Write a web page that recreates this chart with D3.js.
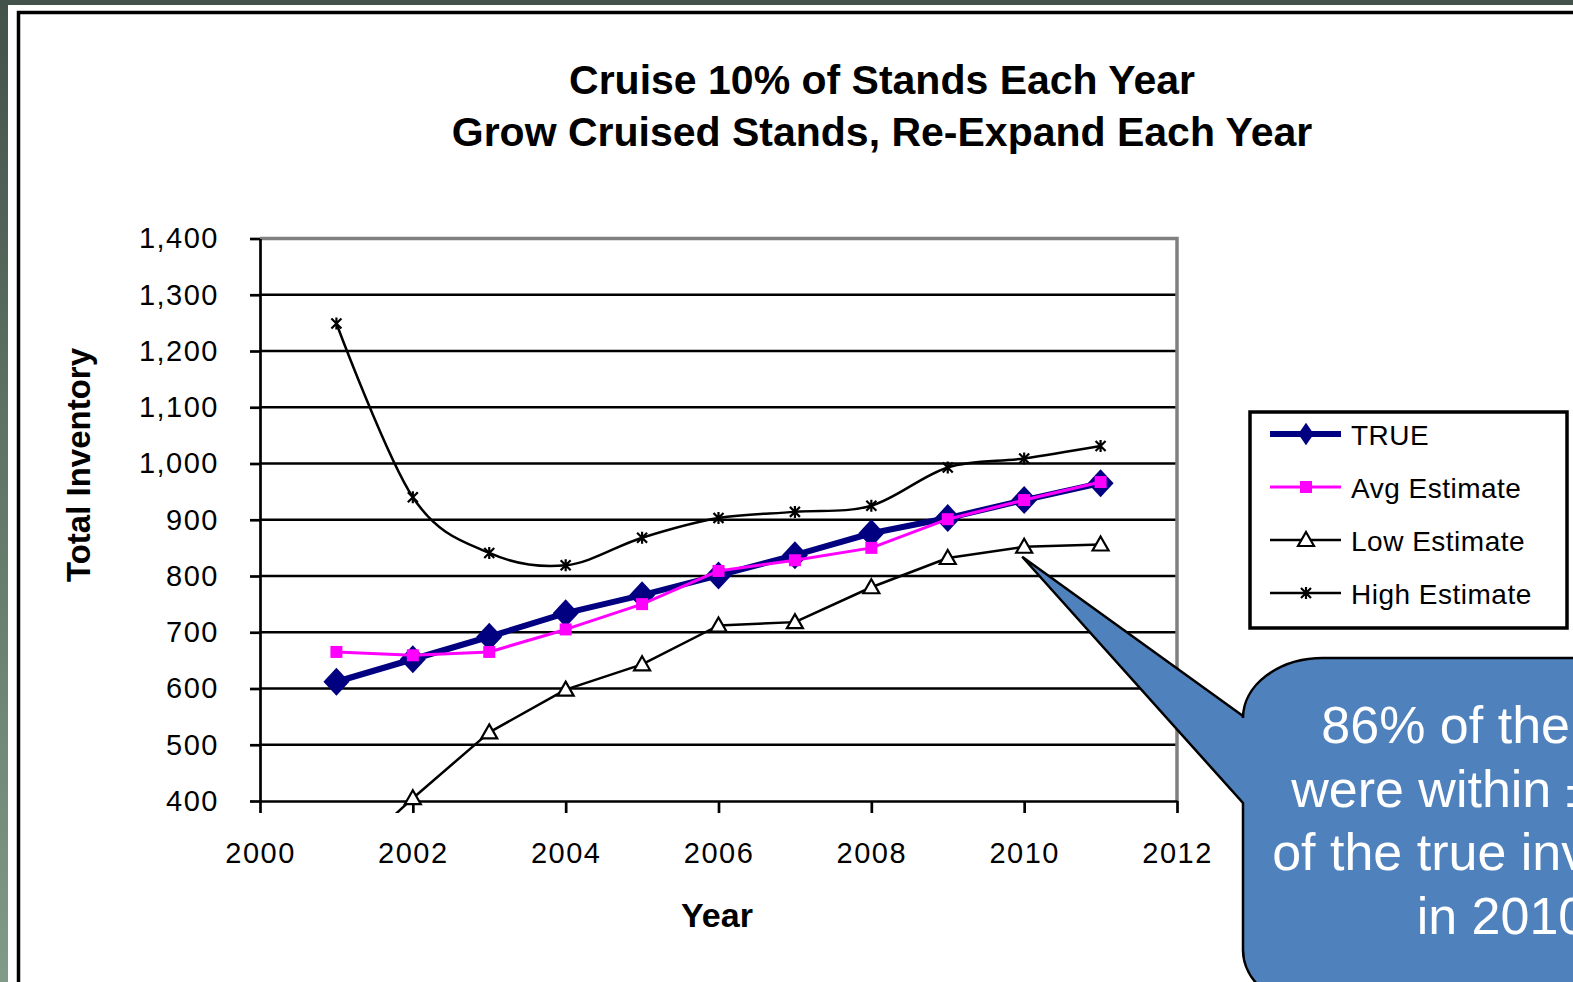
<!DOCTYPE html>
<html>
<head>
<meta charset="utf-8">
<script src="https://cdn.jsdelivr.net/npm/d3@7"></script>
<style>
    body { margin: 0; background: #ffffff; }
    svg { display: block; }
    text { font-family: "Liberation Sans", Arial, sans-serif; }
</style>
</head>
<body>
<script>

// data
var years = [2001, 2002, 2003, 2004, 2005, 2006, 2007, 2008, 2009, 2010, 2011],
    trueValues = [612, 652, 692, 734, 766, 801, 837, 876, 903, 935, 965],
    avgValues = [665, 659, 665, 705, 750, 809, 828, 850, 901, 935, 967],
    lowValues = [280, 405, 522, 598, 643, 712, 718, 780, 832, 852, 856],
    highValues = [1249, 940, 841, 819, 868, 903, 914, 925, 993, 1009, 1031],
    seriesNames = ["TRUE", "Avg Estimate", "Low Estimate", "High Estimate"],
    yTicks = [400, 500, 600, 700, 800, 900, 1000, 1100, 1200, 1300, 1400],
    xTicks = [2000, 2002, 2004, 2006, 2008, 2010, 2012],
    titleLines = ["Cruise 10% of Stands Each Year", "Grow Cruised Stands, Re-Expand Each Year"],
    calloutLines = ["86% of the time", "were within \u00b1 10%", "of the true inventory", "in 2010"];

var width = 1573,
    height = 982,
    plot = {left: 260, right: 1177, top: 238.5, bottom: 801};

var svg = d3.select("body").append("svg")
    .attr("width", width)
    .attr("height", height);

// slide background: white page, dark strips and black frame
var defs = svg.append("defs");
var grad = defs.append("linearGradient")
    .attr("id", "strip")
    .attr("x1", 0).attr("y1", 0).attr("x2", 0).attr("y2", 1);
grad.append("stop").attr("offset", "0%").attr("stop-color", "#43524a");
grad.append("stop").attr("offset", "100%").attr("stop-color", "#809b87");

svg.append("rect").attr("width", width).attr("height", height).attr("fill", "#ffffff");
svg.append("rect").attr("width", 8).attr("height", height).attr("fill", "url(#strip)");
svg.append("rect").attr("width", width).attr("height", 5).attr("fill", "#43524a");
svg.append("rect")
    .attr("x", 18.5).attr("y", 12.5)
    .attr("width", 1700).attr("height", 1200)
    .attr("fill", "none")
    .attr("stroke", "#000")
    .attr("stroke-width", 3.5);

// scales
var x = d3.scaleLinear().domain([2000, 2012]).range([plot.left, plot.right]);
var y = d3.scaleLinear().domain([400, 1400]).range([plot.bottom, plot.top]);

// title
svg.append("g").selectAll("text")
    .data(titleLines)
    .enter().append("text")
        .attr("x", 882)
        .attr("y", function(d, i) { return 94 + i * 52; })
        .attr("text-anchor", "middle")
        .attr("font-size", "41px")
        .attr("font-weight", "bold")
        .text(function(d) { return d; });

// horizontal gridlines
svg.append("g").selectAll("line")
    .data(yTicks.slice(1, -1))
    .enter().append("line")
        .attr("x1", plot.left).attr("x2", plot.right)
        .attr("y1", function(d) { return y(d); })
        .attr("y2", function(d) { return y(d); })
        .attr("stroke", "#000")
        .attr("stroke-width", 2.7);

// grey plot border on top and right
svg.append("path")
    .attr("d", "M" + plot.left + "," + plot.top + "H" + plot.right + "V" + plot.bottom)
    .attr("fill", "none")
    .attr("stroke", "#808080")
    .attr("stroke-width", 3.5);

// y-axis
var yAxis = svg.append("g")
    .attr("transform", "translate(" + plot.left + ",0)")
    .call(d3.axisLeft(y).tickValues(yTicks).tickSize(10).tickSizeOuter(0)
        .tickPadding(31).tickFormat(d3.format(",")));

// x-axis
var xAxis = svg.append("g")
    .attr("transform", "translate(0," + plot.bottom + ")")
    .call(d3.axisBottom(x).tickValues(xTicks).tickSize(12).tickSizeOuter(0)
        .tickPadding(29).tickFormat(d3.format("d")));

[yAxis, xAxis].forEach(function(axis) {
    axis.select(".domain").attr("stroke", "#000").attr("stroke-width", 2.7);
    axis.selectAll(".tick line").attr("stroke", "#000").attr("stroke-width", 2.7);
    axis.selectAll(".tick text")
        .attr("fill", "#000")
        .attr("font-size", "29px")
        .attr("letter-spacing", "1.5px")
        .attr("font-family", "'Liberation Sans', Arial, sans-serif");
});

// axis titles
svg.append("text")
    .attr("transform", "translate(90,465) rotate(-90)")
    .attr("text-anchor", "middle")
    .attr("font-size", "33px")
    .attr("font-weight", "bold")
    .text("Total Inventory");

svg.append("text")
    .attr("x", 717)
    .attr("y", 927)
    .attr("text-anchor", "middle")
    .attr("font-size", "34px")
    .attr("font-weight", "bold")
    .text("Year");

// marker shapes
var markers = {
    diamond: "M0,-14L13,0L0,14L-13,0Z",
    square: "M-6,-6H6V6H-6Z",
    triangle: "M0,-8L8,6H-8Z",
    star: "M-5,-5L5,5M-5,5L5,-5M0,-6V6"
};

var series = [
    {name: seriesNames[0], values: trueValues, color: "#000080", width: 6, marker: markers.diamond, fill: "#000080", curve: d3.curveLinear},
    {name: seriesNames[1], values: avgValues, color: "#ff00ff", width: 3, marker: markers.square, fill: "#ff00ff", curve: d3.curveLinear},
    {name: seriesNames[2], values: lowValues, color: "#000", width: 2.5, marker: markers.triangle, fill: "#fff", curve: d3.curveLinear},
    {name: seriesNames[3], values: highValues, color: "#000", width: 2.5, marker: markers.star, fill: "none", curve: d3.curveCardinal.tension(0)}
];

// clip lines to the plot area (Excel lets them run a little under the axis)
defs.append("clipPath").attr("id", "plotclip")
    .append("rect")
        .attr("x", plot.left).attr("y", plot.top)
        .attr("width", plot.right - plot.left)
        .attr("height", plot.bottom - plot.top + 12);

var chart = svg.append("g").attr("clip-path", "url(#plotclip)");

series.forEach(function(s) {
    var points = years.map(function(yr, i) { return {year: yr, value: s.values[i]}; });

    var line = d3.line()
        .x(function(d) { return x(d.year); })
        .y(function(d) { return y(d.value); })
        .curve(s.curve);

    chart.append("path")
        .datum(points)
        .attr("d", line)
        .attr("fill", "none")
        .attr("stroke", s.color)
        .attr("stroke-width", s.width)
        .attr("stroke-linejoin", "round");

    // markers only for points inside the value range
    chart.selectAll(null)
        .data(points.filter(function(d) { return d.value >= 400; }))
        .enter().append("path")
            .attr("transform", function(d) { return "translate(" + x(d.year) + "," + y(d.value) + ")"; })
            .attr("d", s.marker)
            .attr("fill", s.fill)
            .attr("stroke", s.fill == "none" || s.fill == "#fff" ? s.color : "none")
            .attr("stroke-width", 2.2);
});

// legend
var legendBox = svg.append("g");
legendBox.append("rect")
    .attr("x", 1250).attr("y", 412)
    .attr("width", 317).attr("height", 216)
    .attr("fill", "#fff")
    .attr("stroke", "#000")
    .attr("stroke-width", 3.5);

var legend = legendBox.selectAll(".legend")
    .data(series)
    .enter().append("g")
        .attr("class", "legend")
        .attr("transform", function(d, i) { return "translate(0," + (434 + i * 53) + ")"; });

legend.append("line")
    .attr("x1", 1270).attr("x2", 1341)
    .attr("stroke", function(d) { return d.color; })
    .attr("stroke-width", function(d) { return d.width; });

legend.append("path")
    .attr("transform", function(d, i) { return "translate(1306,0)" + (i == 0 ? " scale(0.6,0.8)" : ""); })
    .attr("d", function(d) { return d.marker; })
    .attr("fill", function(d) { return d.fill; })
    .attr("stroke", function(d) { return d.fill == "none" || d.fill == "#fff" ? d.color : "none"; })
    .attr("stroke-width", 2.2);

legend.append("text")
    .attr("x", 1351)
    .attr("y", 11)
    .attr("font-size", "28px")
    .attr("letter-spacing", "0.5px")
    .text(function(d) { return d.name; });

// callout pointing at the 2010 low estimate (runs off the slide edge as in the original)
var tipX = x(2010) - 2,
    tipY = y(lowValues[9]) + 10;

svg.append("path")
    .attr("d", "M1243,716L" + tipX + "," + tipY + "L1243,803V950" +
               "A80,60 0 0 0 1323,1010H1800V658H1323A80,60 0 0 0 1243,718Z")
    .attr("fill", "#4f81bd")
    .attr("stroke", "#000")
    .attr("stroke-width", 2.5)
    .attr("stroke-linejoin", "miter");

svg.append("g").selectAll("text")
    .data(calloutLines)
    .enter().append("text")
        .attr("x", 1502)
        .attr("y", function(d, i) { return 743 + i * 63.7; })
        .attr("text-anchor", "middle")
        .attr("font-size", "52px")
        .attr("fill", "#fff")
        .text(function(d) { return d; });

</script>
</body>
</html>
